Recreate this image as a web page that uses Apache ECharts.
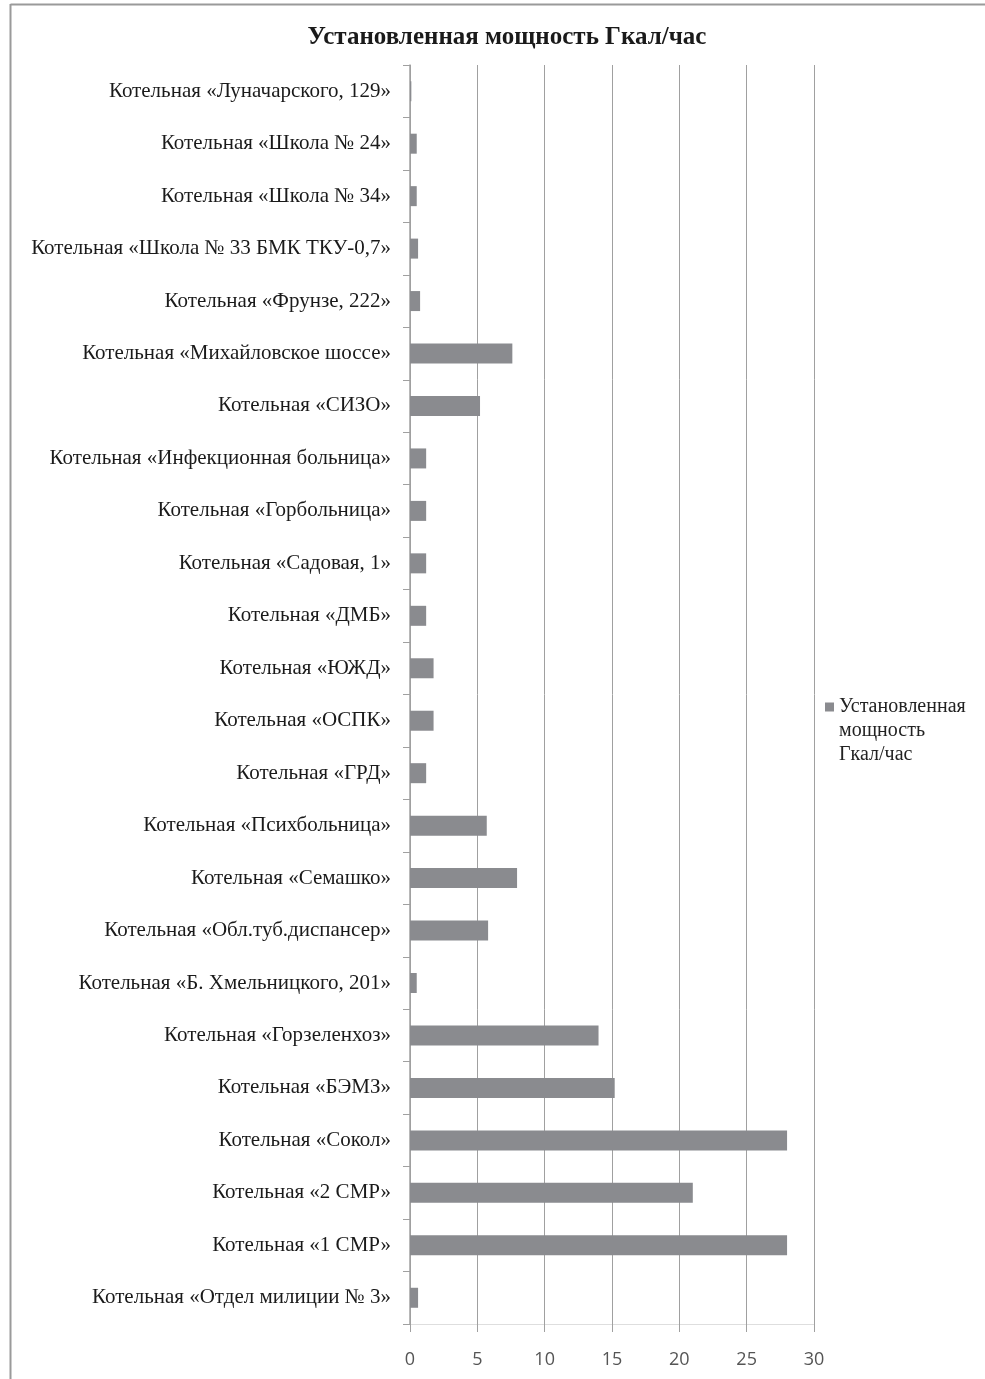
<!DOCTYPE html>
<html><head><meta charset="utf-8">
<script src="https://cdn.jsdelivr.net/npm/echarts@6/dist/echarts.min.js"></script>
<style>html,body{margin:0;padding:0;background:#fff}#c{width:985px;height:1379px}</style>
</head><body><div id="c"></div>
<script>
const titleText = 'Установленная мощность Гкал/час';
const seriesName = 'Установленная мощность Гкал/час';
const legendLines = ['Установленная', 'мощность', 'Гкал/час'];
const categories = [
  'Котельная «Луначарского, 129»',
  'Котельная «Школа № 24»',
  'Котельная «Школа № 34»',
  'Котельная «Школа № 33 БМК ТКУ-0,7»',
  'Котельная «Фрунзе, 222»',
  'Котельная «Михайловское шоссе»',
  'Котельная «СИЗО»',
  'Котельная «Инфекционная больница»',
  'Котельная «Горбольница»',
  'Котельная «Садовая, 1»',
  'Котельная «ДМБ»',
  'Котельная «ЮЖД»',
  'Котельная «ОСПК»',
  'Котельная «ГРД»',
  'Котельная «Психбольница»',
  'Котельная «Семашко»',
  'Котельная «Обл.туб.диспансер»',
  'Котельная «Б. Хмельницкого, 201»',
  'Котельная «Горзеленхоз»',
  'Котельная «БЭМЗ»',
  'Котельная «Сокол»',
  'Котельная «2 СМР»',
  'Котельная «1 СМР»',
  'Котельная «Отдел милиции № 3»'
];
const values = [0.1, 0.5, 0.5, 0.6, 0.75, 7.6, 5.2, 1.2, 1.2, 1.2, 1.2, 1.75, 1.75, 1.2, 5.7, 7.95, 5.8, 0.5, 14, 15.2, 28, 21, 28, 0.6];
const xTicks = { min: 0, max: 30, interval: 5 };

const chart = echarts.init(document.getElementById('c'));
chart.setOption({
  animation: false,
  backgroundColor: '#fff',
  graphic: [
    { type: 'line', shape: { x1: 10.5, y1: 4.5, x2: 985, y2: 4.5 }, style: { stroke: '#9a9a9a', lineWidth: 2 } },
    { type: 'line', shape: { x1: 10.5, y1: 4, x2: 10.5, y2: 1379 }, style: { stroke: '#9a9a9a', lineWidth: 2 } }
  ],
  title: {
    text: titleText, left: 502, top: 20, textAlign: 'center',
    textStyle: { fontFamily: 'Liberation Serif', fontWeight: 'bold', fontSize: 25, color: '#1a1a1a' }
  },
  legend: {
    orient: 'vertical', left: 825, top: 647, padding: 0, itemWidth: 9, itemHeight: 9,
    data: [seriesName],
    formatter: () => '\n\n' + legendLines.join('\n'),
    textStyle: { fontFamily: 'Liberation Serif', fontSize: 20, color: '#222', lineHeight: 24 },
    icon: 'rect'
  },
  grid: { left: 410, right: 171, top: 65, bottom: 55, containLabel: false },
  xAxis: {
    type: 'value', min: xTicks.min, max: xTicks.max, interval: xTicks.interval,
    axisLine: { show: true, lineStyle: { color: '#dedede', width: 1 } },
    axisTick: { show: true, length: 8, lineStyle: { color: '#a0a0a0' } },
    splitLine: { show: true, lineStyle: { color: '#a0a0a0', width: 1 } },
    axisLabel: { fontFamily: 'Open Sans', fontSize: 18, color: '#555', margin: 27 }
  },
  yAxis: {
    type: 'category', inverse: true, data: categories,
    axisLine: { show: true, lineStyle: { color: '#a0a0a0', width: 1.5 } },
    axisTick: { show: true, length: 7, lineStyle: { color: '#a0a0a0' } },
    axisLabel: { fontFamily: 'Liberation Serif', fontSize: 21, color: '#1a1a1a', margin: 19 }
  },
  series: [{
    name: seriesName, type: 'bar', data: values, barWidth: 20,
    itemStyle: { color: '#8a8b8f' }
  }]
});
</script></body></html>
